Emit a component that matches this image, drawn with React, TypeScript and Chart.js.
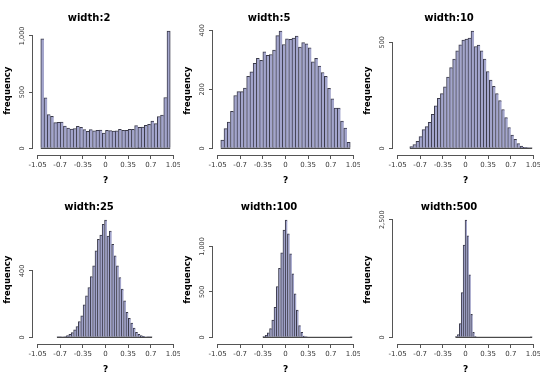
import React, { useEffect, useRef } from "react";
import { Chart, registerables } from "chart.js";

Chart.register(...registerables);

// ---------- data ----------
const panelTitles = ["width:2", "width:5", "width:10", "width:25", "width:100", "width:500"];

// [left edge of first bin, right edge of last bin]
const binRange2 = [-1.0, 1.0];
const binRange5 = [-1.0, 1.0];
const binRange10 = [-0.86, 1.03];
const binRange25 = [-0.75, 0.72];
const binRange100 = [-0.35, 1.03];
const binRange500 = [-0.155, 1.03];

const counts2 = [975, 450, 300, 285, 228, 232, 234, 198, 180, 172, 176, 196, 186, 166, 152, 166, 155, 160, 163, 135,
  160, 158, 154, 155, 168, 160, 160, 168, 168, 202, 186, 190, 205, 213, 243, 220, 283, 295, 452, 1042];
const counts5 = [28, 67, 89, 125, 179, 192, 192, 204, 244, 259, 288, 305, 298, 327, 315, 318, 333, 382, 397, 352,
  371, 369, 374, 380, 343, 358, 354, 341, 293, 305, 279, 257, 244, 203, 168, 136, 136, 92, 69, 20];
const counts10 = [8, 18, 33, 55, 88, 102, 122, 160, 200, 236, 258, 290, 336, 380, 420, 460, 488, 510, 515, 520,
  552, 480, 486, 460, 420, 362, 322, 292, 258, 225, 183, 145, 98, 62, 42, 22, 10, 5, 3, 1];
const counts25 = [2, 2, 3, 5, 10, 18, 28, 45, 65, 95, 130, 195, 250, 300, 365, 430, 520, 590, 615, 680,
  705, 610, 640, 560, 490, 430, 360, 290, 220, 150, 115, 85, 55, 30, 18, 10, 6, 3, 2, 1];
const counts100 = [8, 22, 50, 95, 190, 330, 560, 760, 930, 1180, 1290, 1140, 920, 700, 480, 300, 130, 55, 15, 4,
  0, 0, 0, 0, 0, 0, 0, 0, 0, 0, 0, 0, 0, 0, 0, 0, 0, 0, 0, 1];
const counts500 = [20, 60, 290, 950, 1960, 2490, 2160, 1330, 490, 105, 15, 0, 0, 0, 0, 0, 0, 0, 0, 0,
  0, 0, 0, 0, 0, 0, 0, 0, 0, 0, 0, 0, 0, 0, 0, 0, 0, 0, 0, 1];

const xTickValues = [-1.05, -0.7, -0.35, 0, 0.35, 0.7, 1.05];
const xTickLabels = ["-1.05", "-0.7", "-0.35", "0", "0.35", "0.7", "1.05"];

const yTicks2 = [0, 500, 1000];
const yTicks5 = [0, 200, 400];
const yTicks10 = [0, 500];
const yTicks25 = [0, 400];
const yTicks100 = [0, 500, 1000];
const yTicks500 = [0, 2500];

const xAxisTitle = "?";
const yAxisTitle = "frequency";

const panels = [
  { title: panelTitles[0], range: binRange2, counts: counts2, yTicks: yTicks2 },
  { title: panelTitles[1], range: binRange5, counts: counts5, yTicks: yTicks5 },
  { title: panelTitles[2], range: binRange10, counts: counts10, yTicks: yTicks10 },
  { title: panelTitles[3], range: binRange25, counts: counts25, yTicks: yTicks25 },
  { title: panelTitles[4], range: binRange100, counts: counts100, yTicks: yTicks100 },
  { title: panelTitles[5], range: binRange500, counts: counts500, yTicks: yTicks500 },
];

// ---------- style ----------
const FONT = "'DejaVu Sans', Verdana, sans-serif";
const PANEL_W = 180;
const PANEL_H = 189;
const BAR_FILL = "#a3a5cc";
const BAR_EDGE = "#3a3a4a";
const AXIS_COLOR = "#555555";
const TICK_TEXT = "#333333";
const X_TICK_SIZE = 7;
const Y_TICK_SIZE = 6.5;

const fmtY = (v: number) => v.toLocaleString("en-US");

const rAxesPlugin = {
  id: "rAxes",
  afterDraw(chart: any) {
    const { ctx, chartArea } = chart;
    const xs = chart.scales.x;
    const ys = chart.scales.y;
    const yt: number[] = chart.options.plugins.rAxes.yTicks;
    ctx.save();
    ctx.strokeStyle = AXIS_COLOR;
    ctx.lineWidth = 1;
    ctx.beginPath();
    const xb = Math.round(chartArea.bottom) + 0.5;
    ctx.moveTo(xs.getPixelForValue(xTickValues[0]), xb);
    ctx.lineTo(xs.getPixelForValue(xTickValues[xTickValues.length - 1]), xb);
    const yl = Math.round(chartArea.left) - 0.5;
    ctx.moveTo(yl, ys.getPixelForValue(yt[0]));
    ctx.lineTo(yl, ys.getPixelForValue(yt[yt.length - 1]));
    ctx.stroke();
    ctx.restore();
  },
};

function Panel({ p }: { p: any }) {
  const ref = useRef<HTMLCanvasElement | null>(null);
  useEffect(() => {
    const canvas = ref.current!;
    const counts: number[] = p.counts;
    const [lo, hi] = p.range;
    const n = counts.length;
    const w = (hi - lo) / n;
    const bars = counts.map((c, i) => ({ x: lo + (i + 0.5) * w, y: c }));
    const maxC = Math.max(...counts);

    const mctx = canvas.getContext("2d")!;
    mctx.font = `${Y_TICK_SIZE}px ${FONT}`;
    const widest = Math.max(...p.yTicks.map((v: number) => mctx.measureText(fmtY(v)).width));
    const tickLen = 4;
    const yLabelPad = 11 - widest / 2 - tickLen;

    const chart = new Chart(canvas, {
      type: "bar",
      data: {
        datasets: [
          {
            type: "line",
            data: [{ x: lo, y: 0 }, { x: hi, y: 0 }],
            borderColor: "#222222",
            borderWidth: 1,
            pointRadius: 0,
            order: 0,
          } as any,
          {
            type: "bar",
            data: bars,
            backgroundColor: BAR_FILL,
            borderColor: BAR_EDGE,
            borderWidth: (c: any) =>
              c.dataIndex === n - 1 ? { top: 1, left: 1, right: 1, bottom: 0 } : { top: 1, left: 1, right: 0, bottom: 0 },
            borderSkipped: false,
            barPercentage: 1,
            categoryPercentage: 1,
            order: 1,
          } as any,
        ],
      },
      options: {
        animation: false,
        responsive: false,
        maintainAspectRatio: false,
        events: [],
        layout: { padding: { left: 0, right: 2, top: 0, bottom: 0 } },
        plugins: {
          legend: { display: false },
          tooltip: { enabled: false },
          title: {
            display: true,
            text: p.title,
            color: "#000000",
            font: { family: FONT, size: 10, weight: "bold" },
            padding: { top: 12, bottom: 2.5 },
          },
          rAxes: { yTicks: p.yTicks },
        } as any,
        scales: {
          x: {
            type: "linear",
            min: xTickValues[0] - 0.07,
            max: xTickValues[xTickValues.length - 1] + 0.07,
            offset: false,
            afterBuildTicks: (s: any) => {
              s.ticks = xTickValues.map((v) => ({ value: v }));
            },
            afterFit: (s: any) => {
              s.height = 34;
              s.paddingLeft = 0;
              s.paddingRight = 0;
            },
            ticks: {
              callback: (_v: any, i: number) => xTickLabels[i],
              font: { family: FONT, size: X_TICK_SIZE },
              color: TICK_TEXT,
              padding: 2,
              minRotation: 0,
              maxRotation: 0,
              autoSkip: false,
            },
            grid: {
              display: true,
              offset: false,
              drawOnChartArea: false,
              drawTicks: true,
              tickLength: tickLen,
              color: AXIS_COLOR,
              lineWidth: 1,
            },
            border: { display: false },
            title: {
              display: true,
              text: xAxisTitle,
              color: "#000000",
              font: { family: FONT, size: 9, weight: "bold" },
              padding: { top: 0, bottom: 3 },
            },
          },
          y: {
            type: "linear",
            min: -0.057 * maxC,
            max: 1.04 * maxC,
            afterBuildTicks: (s: any) => {
              s.ticks = p.yTicks.map((v: number) => ({ value: v }));
            },
            afterFit: (s: any) => {
              s.width = 33;
              s.paddingTop = 0;
              s.paddingBottom = 0;
            },
            ticks: {
              callback: (v: any) => fmtY(Number(v)),
              font: { family: FONT, size: Y_TICK_SIZE },
              color: TICK_TEXT,
              padding: yLabelPad,
              minRotation: 90,
              maxRotation: 90,
              crossAlign: "center",
              autoSkip: false,
            },
            grid: {
              display: true,
              drawOnChartArea: false,
              drawTicks: true,
              tickLength: tickLen,
              color: AXIS_COLOR,
              lineWidth: 1,
            },
            border: { display: false },
            title: {
              display: true,
              text: yAxisTitle,
              color: "#000000",
              font: { family: FONT, size: 8.5, weight: "bold" },
              padding: { top: 3, bottom: 0 },
            },
          },
        },
      } as any,
      plugins: [rAxesPlugin],
    });
    return () => chart.destroy();
  }, [p]);
  return (
    <div style={{ width: PANEL_W, height: PANEL_H }}>
      <canvas ref={ref} width={PANEL_W} height={PANEL_H} style={{ display: "block", width: PANEL_W, height: PANEL_H }} />
    </div>
  );
}

export default function App() {
  return (
    <div
      style={{
        position: "fixed",
        left: 0,
        top: 0,
        width: 540,
        height: 378,
        background: "#ffffff",
        display: "grid",
        gridTemplateColumns: `${PANEL_W}px ${PANEL_W}px ${PANEL_W}px`,
        gridTemplateRows: `${PANEL_H}px ${PANEL_H}px`,
      }}
    >
      {panels.map((p, i) => (
        <Panel key={i} p={p} />
      ))}
    </div>
  );
}
